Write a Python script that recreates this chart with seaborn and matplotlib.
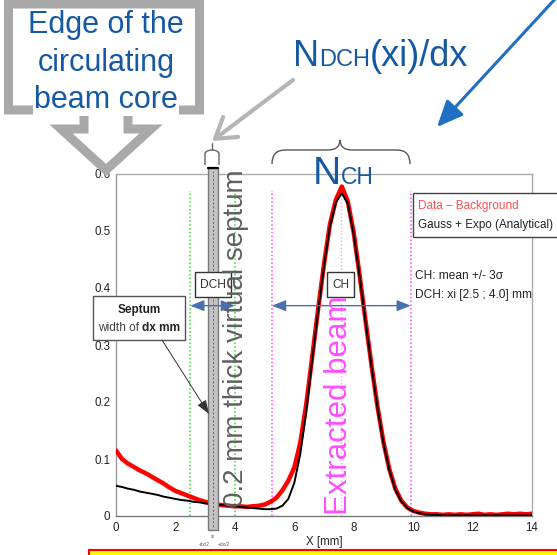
import matplotlib
matplotlib.use("Agg")
import numpy as np
import pandas as pd
import seaborn as sns
import matplotlib.pyplot as plt
from matplotlib import font_manager
from matplotlib.patches import Polygon, Rectangle, PathPatch
from matplotlib.path import Path

# ---------------- data ----------------
x_mm = np.round(np.arange(0, 14.01, 0.2), 1)
data_minus_bg = [0.115, 0.100, 0.092, 0.086, 0.080, 0.075, 0.069, 0.063, 0.057, 0.050,
                 0.044, 0.040, 0.036, 0.032, 0.028, 0.025, 0.022, 0.020, 0.019, 0.018,
                 0.017, 0.017, 0.016, 0.017, 0.018, 0.020, 0.025, 0.032, 0.045, 0.062,
                 0.085, 0.128, 0.195, 0.278, 0.362, 0.442, 0.512, 0.555, 0.578, 0.552,
                 0.497, 0.422, 0.342, 0.264, 0.192, 0.130, 0.082, 0.048, 0.027, 0.015,
                 0.009, 0.006, 0.004, 0.003, 0.003, 0.002, 0.003, 0.002, 0.003, 0.002,
                 0.003, 0.004, 0.002, 0.003, 0.002, 0.003, 0.004, 0.003, 0.004, 0.003,
                 0.004]
gauss_expo = [0.053, 0.051, 0.048, 0.046, 0.043, 0.041, 0.039, 0.037, 0.034, 0.032,
              0.030, 0.028, 0.027, 0.025, 0.024, 0.022, 0.021, 0.020, 0.019, 0.018,
              0.017, 0.016, 0.015, 0.014, 0.013, 0.012, 0.012, 0.013, 0.018, 0.030,
              0.058, 0.108, 0.182, 0.272, 0.358, 0.438, 0.508, 0.550, 0.566, 0.548,
              0.494, 0.420, 0.340, 0.262, 0.190, 0.128, 0.080, 0.046, 0.026, 0.014,
              0.008, 0.005, 0.003, 0.002, 0.002, 0.001, 0.001, 0.001, 0.001, 0.001,
              0.001, 0.001, 0.001, 0.001, 0.001, 0.001, 0.001, 0.001, 0.001, 0.001,
              0.001]
x_ticks = [0, 2, 4, 6, 8, 10, 12, 14]
y_ticks = [0, 0.1, 0.2, 0.3, 0.4, 0.5, 0.6]
y_tick_labels = ["0", "0.1", "0.2", "0.3", "0.4", "0.5", "0.6"]
dch_range = [2.5, 4.0]
ch_range = [5.25, 9.92]
ch_mean = 7.58
septum_x = [3.10, 3.43]
line_top = 0.57
arrow_y = 0.369

df = pd.DataFrame({"x": x_mm, "data": data_minus_bg, "fit": gauss_expo})

# ---------------- style ----------------
sns.set_style("white")


def has_font(name):
    try:
        font_manager.findfont(font_manager.FontProperties(family=name), fallback_to_default=False)
        return True
    except Exception:
        return False


sans = ["Liberation Sans", "DejaVu Sans"]
narrow = (["Liberation Sans Narrow"] if has_font("Liberation Sans Narrow") else []) + sans
plt.rcParams["font.family"] = sans

blue = "#1559a5"

fig = plt.figure(figsize=(5.57, 5.55), dpi=100)
W, H = 557, 555
ax = fig.add_axes([116 / W, 39 / H, 416 / W, 342 / H])
ax.set_xlim(0, 14)
ax.set_ylim(0, 0.6)

# guide lines
ax.vlines(dch_range, 0, line_top, colors="#33dd33", linestyles=(0, (1, 1.5)), lw=1.1, zorder=1)
ax.vlines(ch_range, 0, line_top, colors="#ff44ff", linestyles=(0, (1, 1.5)), lw=1.1, zorder=1)
ax.vlines([ch_mean], 0, 0.56, colors="#f2a6f2", linestyles=(0, (1, 1.5)), lw=1.0, zorder=1)

sns.lineplot(data=df, x="x", y="data", color="#ff0000", lw=3.2, ax=ax, zorder=3)
sns.lineplot(data=df, x="x", y="fit", color="black", lw=1.4, ax=ax, zorder=4)

ax.set_xticks(x_ticks)
ax.set_xticks(np.arange(0, 14.01, 0.5), minor=True)
ax.set_yticks(y_ticks)
ax.set_yticklabels(y_tick_labels)
ax.set_yticks(np.arange(0, 0.601, 0.02), minor=True)
ax.tick_params(axis="both", which="major", direction="in", length=9, width=0.8,
               color="#888888", labelsize=8.3, labelcolor="#222222", pad=4)
ax.tick_params(axis="both", which="minor", direction="in", length=4.5, width=0.7,
               color="#888888")
ax.tick_params(top=False, right=False, which="both")
for lbl in ax.get_xticklabels() + ax.get_yticklabels():
    lbl.set_family(narrow)
ax.set_xlabel("X [mm]", fontsize=8.3, family=narrow, color="#222222", labelpad=2)
ax.set_ylabel("")
for side, col in [("left", "#999999"), ("bottom", "#777777"), ("top", "#aaaaaa"), ("right", "#aaaaaa")]:
    ax.spines[side].set_color(col)
    ax.spines[side].set_linewidth(1.0)

# septum
sep = Rectangle((septum_x[0], -0.0246), septum_x[1] - septum_x[0], 0.6351,
                facecolor="#c4c4c4", edgecolor="#7a7a7a", lw=1.0, zorder=6, clip_on=False)
ax.add_patch(sep)
sep_c = (septum_x[0] + septum_x[1]) / 2
ax.plot([sep_c, sep_c], [-0.02, 0.605], color="#6f6f6f", lw=0.7, ls=(0, (2.5, 1.5)),
        zorder=7, clip_on=False)
ax.plot(septum_x, [0.6105, 0.6105], color="black", lw=1.6, zorder=7, clip_on=False)

# double arrows
ap = dict(arrowstyle="<|-|>,head_length=0.7,head_width=0.28", color="#4a70b0", lw=1.0,
          mutation_scale=12, shrinkA=0, shrinkB=0)
ax.annotate("", xy=(dch_range[0], arrow_y), xytext=(dch_range[1], arrow_y), arrowprops=ap, zorder=8)
ax.annotate("", xy=(ch_range[0], arrow_y), xytext=(ch_range[1], arrow_y), arrowprops=ap, zorder=8)

# ---------------- overlay in pixel coordinates ----------------
ov = fig.add_axes([0, 0, 1, 1])
ov.set_xlim(0, W)
ov.set_ylim(H, 0)
ov.axis("off")
ov.set_zorder(5)

rend = fig.canvas.get_renderer()


def wpx(t):
    return t.get_window_extent(rend).width


def fit_text(x, y, s, target_w, base=10.0, **kw):
    t = ov.text(x, y, s, fontsize=base, **kw)
    w = wpx(t)
    t.set_fontsize(base * target_w / w)
    return t


# callout box with arrow
pts = [(8.5, 4), (199.5, 4), (199.5, 110), (128, 110), (128, 129), (151, 129),
       (106, 170), (61, 129), (84, 129), (84, 110), (8.5, 110)]
ov.add_patch(Polygon(pts, closed=True, facecolor="white", edgecolor="#a9a9a9",
                     lw=6.5, joinstyle="miter"))
for s, yb in [("Edge of the", 33), ("circulating", 71)]:
    ov.text(106, yb, s, fontsize=22, color=blue, ha="center", va="baseline", family=sans)
ov.text(106, 108, "beam core", fontsize=22, color=blue, ha="center", va="baseline",
        family=sans, bbox=dict(facecolor="white", edgecolor="none", pad=0.5))

# N_DCH(xi)/dx
xc = 293
for s, fs in [("N", 26), ("DCH", 17), ("(xi)/dx", 26)]:
    t = ov.text(xc, 66, s, fontsize=fs, color=blue, ha="left", va="baseline", family=sans)
    xc += wpx(t)

# N_CH
xc = 313
for s, fs in [("N", 28), ("CH", 16.5)]:
    t = ov.text(xc, 184, s, fontsize=fs, color=blue, ha="left", va="baseline", family=sans)
    xc += wpx(t)

# blue arrow from top right
ov.annotate("", xy=(437, 127), xytext=(556, -2),
            arrowprops=dict(arrowstyle="-|>,head_length=0.8,head_width=0.35", color="#1f6fc4",
                            lw=2.2, mutation_scale=20, shrinkA=0, shrinkB=0))

# gray arrow to septum
ov.annotate("", xy=(212, 141), xytext=(293, 80),
            arrowprops=dict(arrowstyle="->,head_length=0.7,head_width=0.45", color="#b5b5b5",
                            lw=3, mutation_scale=20, shrinkA=0, shrinkB=0))

# bracket over septum
bverts = [(205, 165), (205, 153), (207, 150), (212, 150), (217, 150), (219, 153), (219, 165)]
bcodes = [Path.MOVETO, Path.LINETO, Path.CURVE3, Path.CURVE3, Path.CURVE3, Path.CURVE3, Path.LINETO]
ov.add_patch(PathPatch(Path(bverts, bcodes), facecolor="none", edgecolor="#666666", lw=1.0))
ov.plot([212, 212], [150, 143], color="#666666", lw=1.0)

# brace over CH
verts = [(272, 164), (272, 150), (285, 150), (328, 150), (340, 150), (340, 140),
         (340, 150), (352, 150), (397, 150), (410, 150), (410, 164)]
codes = [Path.MOVETO, Path.CURVE3, Path.CURVE3, Path.LINETO, Path.CURVE3, Path.CURVE3,
         Path.CURVE3, Path.CURVE3, Path.LINETO, Path.CURVE3, Path.CURVE3]
ov.add_patch(PathPatch(Path(verts, codes), facecolor="none", edgecolor="#555555", lw=1.0))

# DCH / CH boxes
for (x0, w, s, tw) in [(195, 36, "DCH", 26), (327, 27, "CH", 17)]:
    ov.add_patch(Rectangle((x0, 272), w, 25, facecolor="white", edgecolor="#333333", lw=1.0, zorder=3))
    fit_text(x0 + w / 2, 285, s, tw, family=narrow, color="#333333",
             ha="center", va="center", zorder=4)

# Septum box
ov.add_patch(Rectangle((93, 296), 92, 44, facecolor="white", edgecolor="#555555", lw=1.0, zorder=3))
fit_text(139, 310, "Septum", 43, family=narrow, weight="bold", color="#222222",
         ha="center", va="center", zorder=4)
t1 = ov.text(0, 328, "width of ", fontsize=8.6, family=narrow, color="#444444",
             ha="left", va="center", zorder=4)
t2 = ov.text(0, 328, "dx mm", fontsize=8.6, family=narrow, weight="bold", color="#222222",
             ha="left", va="center", zorder=4)
w1, w2 = wpx(t1), wpx(t2)
t1.set_x(139 - (w1 + w2) / 2)
t2.set_x(139 - (w1 + w2) / 2 + w1)
ov.annotate("", xy=(209, 414), xytext=(162, 340),
            arrowprops=dict(arrowstyle="-|>,head_length=0.7,head_width=0.25", color="#333333",
                            lw=0.7, mutation_scale=12, shrinkA=0, shrinkB=0))

# legend box
ov.add_patch(Rectangle((413, 193), 160, 44, facecolor="white", edgecolor="#444444", lw=1.0))
fit_text(418, 206, "Data \u2013 Background", 101, family=narrow, color="#ff5050",
         ha="left", va="center")
fit_text(418, 225, "Gauss + Expo (Analytical)", 134, family=narrow, color="#222222",
         ha="left", va="center")

fit_text(415, 276, "CH: mean +/- 3\u03c3", 88, family=narrow, color="#222222",
         ha="left", va="center")
fit_text(415, 295, "DCH: xi [2.5 ; 4.0] mm", 117, family=narrow, color="#222222",
         ha="left", va="center")

# rotated labels
ov.text(236, 507, "0.2 mm thick virtual septum", fontsize=20, family=sans, color="#5f5f5f",
        rotation=90, ha="center", va="bottom")
ov.text(339, 515, "Extracted beam", fontsize=22.5, family=sans, color="#ff4dff",
        rotation=90, ha="center", va="bottom")

# tiny septum labels
ov.text(213, 537, "xi", fontsize=3.5, color="#555555", ha="center", va="center")
ov.text(204, 545, "-dx/2", fontsize=3.5, color="#555555", ha="center", va="center")
ov.text(224, 545, "+dx/2", fontsize=3.5, color="#555555", ha="center", va="center")

# yellow box at bottom
ov.add_patch(Rectangle((89, 550), 480, 20, facecolor="#ffff00", edgecolor="#ff0000", lw=1.5,
                       clip_on=False))

fig.savefig("out.png", dpi=100)
